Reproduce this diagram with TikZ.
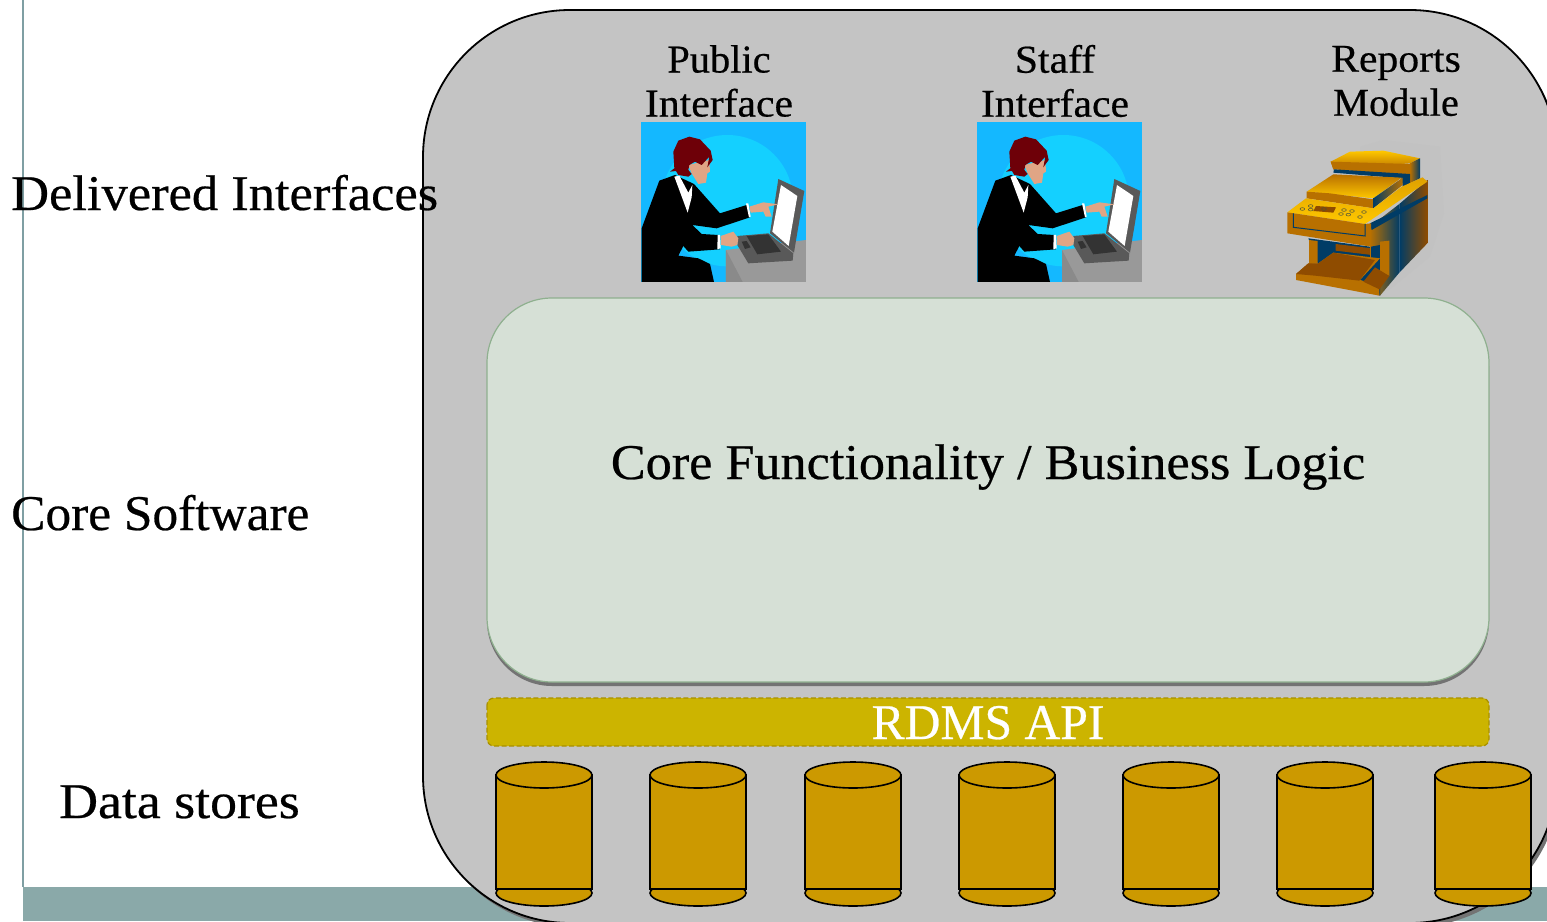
\documentclass[tikz,border=0pt]{standalone}
\usepackage{fontspec}
\setmainfont[FakeStretch=1.055,FakeBold=0.5]{Liberation Serif}
\usetikzlibrary{shadings}
\definecolor{band}{HTML}{8AA9A9}
\definecolor{rail}{HTML}{7F9FA3}
\definecolor{panel}{HTML}{C4C4C4}
\definecolor{core}{HTML}{D6E0D6}
\definecolor{coreedge}{HTML}{8FB08F}
\definecolor{api}{HTML}{CCB400}
\definecolor{apiedge}{HTML}{A89000}
\definecolor{drum}{HTML}{CC9900}
\definecolor{skyA}{HTML}{14B8FF}
\definecolor{skyB}{HTML}{14D0FF}
\definecolor{skin}{HTML}{E0A585}
\definecolor{hair}{HTML}{6E0008}
\definecolor{pblue}{HTML}{003C66}
\definecolor{porange}{HTML}{B87000}
\definecolor{pgold}{HTML}{FFC800}
\definecolor{pbrown}{HTML}{8F4C00}
\tikzset{
 biglabel/.style={font=\fontsize{50}{50}\selectfont,inner sep=0pt,anchor=base west},
 smalllabel/.style={font=\fontsize{39.5}{44}\selectfont,inner sep=0pt,align=center},
 drumshape/.style={fill=drum,draw=black,line width=1.6pt},
 goldtop/.style={top color=pgold,bottom color=porange,draw=none},
 golddeck/.style={top color=porange,bottom color=pgold,draw=none},
 person/.pic={
  \begin{scope}[scale=0.3333]
   \fill[skyA] (63,36) rectangle (558,516);
   \begin{scope}
    \clip (63,36) rectangle (558,516);
    \fill[skyB] (322,272) circle (197);
   \end{scope}
   \fill[black!40] (318,420) -- (558,390) -- (558,516) -- (318,516) -- cycle;
   \fill[black!46] (318,420) -- (368,516) -- (318,516) -- cycle;
   \fill[black!65] (352,378) -- (445,370) -- (520,430) -- (518,452) -- (385,460) -- (352,405) -- cycle;
   \fill[black!80] (380,378) -- (445,373) -- (483,425) -- (412,433) -- cycle;
   \fill[black!80] (365,395) -- (380,393) -- (392,412) -- (375,417) -- cycle;
   \fill[black!65] (475,207) -- (553,243) -- (522,428) -- (450,370) -- cycle;
   \fill[white] (483,225) -- (532,258) -- (506,408) -- (457,365) -- cycle;
   \fill[black] (65,516) -- (65,355) -- (118,212) -- (165,195) -- (222,222) -- (300,310) -- (380,285) -- (390,322) -- (290,355) -- (217,345) -- (245,372) -- (295,375) -- (300,418) -- (205,425) -- (190,408) -- (175,437) -- (235,445) -- (270,462) -- (282,516) -- cycle;
   \fill[white] (378,280) -- (385,280) -- (392,320) -- (387,322) -- cycle;
   \fill[white] (293,375) -- (300,375) -- (302,415) -- (292,418) -- cycle;
   \fill[skin] (388,290) -- (430,277) -- (475,283) -- (445,290) -- (455,320) -- (437,320) -- (430,305) -- (392,308) -- cycle;
   \fill[skin] (302,378) -- (340,365) -- (355,385) -- (352,405) -- (335,410) -- (303,405) -- cycle;
   \fill[skin] (205,165) -- (268,150) -- (270,185) -- (262,190) -- (258,218) -- (235,222) -- (215,190) -- cycle;
   \fill[white] (163,200) -- (178,197) -- (205,248) -- (217,225) -- (215,262) -- (203,308) -- cycle;
   \fill[hair] (150,185) -- (163,175) -- (160,125) -- (175,92) -- (208,80) -- (240,88) -- (272,122) -- (278,150) -- (262,172) -- (268,140) -- (245,165) -- (225,155) -- (208,165) -- (205,180) -- (215,192) -- (205,200) -- (175,195) -- (168,183) -- cycle;
  \end{scope}
 },
 datadrum/.pic={
  \path[drumshape] (0,4) ellipse (48 and 13);
  \path[drumshape] (-48,-114) rectangle (48,0);
  \path[drumshape] (0,-114) ellipse (48 and 13);
 }
}
\begin{document}
\begin{tikzpicture}[x=1pt,y=-1pt]
\useasboundingbox (0,0) rectangle (1547,921);
\clip (0,0) rectangle (1547,921);
\fill[white] (0,0) rectangle (1547,921);
\fill[band] (23,887) rectangle (1547,921);
\draw[rail,line width=1.2pt] (23,0) -- (23,887);
% outer panel
\fill[black!55,rounded corners=147pt] (426,14) rectangle (1560,927);
\path[fill=panel,draw=black,line width=1.8pt,rounded corners=147pt] (423,10) rectangle (1557,923);
% clip art
\pic at (620,110) {person};
\pic at (956,110) {person};
\begin{scope}[shift={(1270,130)},scale=0.3333]
 \fill[black!24] (270,50) -- (340,30) -- (510,50) -- (522,250) -- (480,380) -- (370,470) -- (330,497) -- (300,300) -- cycle;
 \fill[pblue] (115,325) -- (300,350) -- (330,497) -- (150,420) -- cycle;
 \fill[porange] (117,330) -- (143,333) -- (143,400) -- (117,402) -- cycle;
 \fill[pbrown] (197,342) -- (330,358) -- (330,378) -- (197,362) -- cycle;
 \path[left color=porange,right color=pblue,draw=none] (300,290) -- (388,222) -- (388,428) -- (330,497) -- (300,400) -- cycle;
 \path[left color=pblue,right color=pbrown,draw=none] (388,222) -- (472,150) -- (472,340) -- (388,428) -- cycle;
 \fill[pblue] (303,350) -- (330,345) -- (330,497) -- (303,420) -- cycle;
 \fill[pblue] (300,280) -- (472,195) -- (472,205) -- (305,300) -- cycle;
 \fill[porange] (330,335) -- (358,332) -- (358,438) -- (330,425) -- cycle;
 \path[goldtop] (182,95) -- (240,65) -- (340,62) -- (450,85) -- (420,100) -- (190,118) -- cycle;
 \fill[porange] (182,95) -- (420,102) -- (420,138) -- (400,135) -- (190,118) -- cycle;
 \path[left color=porange,right color=pblue,draw=none] (420,100) -- (450,85) -- (450,145) -- (420,160) -- cycle;
 \fill[pblue] (192,118) -- (420,132) -- (420,160) -- (398,170) -- (395,145) -- (190,128) -- cycle;
 \path[golddeck] (110,185) -- (190,133) -- (395,143) -- (310,205) -- cycle;
 \fill[porange] (110,185) -- (180,190) -- (310,208) -- (310,235) -- (110,205) -- cycle;
 \path[left color=pblue,right color=porange,draw=none] (310,205) -- (398,143) -- (398,165) -- (310,235) -- cycle;
 \path[top color=pgold!55!porange,bottom color=pgold,draw=none] (52,247) -- (108,205) -- (310,235) -- (395,170) -- (458,142) -- (472,155) -- (285,282) -- cycle;
 \fill[porange] (52,247) -- (285,282) -- (303,280) -- (303,350) -- (52,310) -- cycle;
 \draw[pblue,line width=1pt] (70,250) -- (70,292) -- (285,318) -- (285,282);
 \fill[pbrown] (138,228) -- (198,232) -- (190,248) -- (130,243) -- cycle;
 \foreach \a/\b in {97/237,122/228,122/239,162/237,222/240,246/243,282/246,213/252,235/254,270/261}
   \draw[pblue!60!porange,line width=.5pt] (\a,\b) circle (7 and 4);
 \fill[porange] (78,432) -- (115,400) -- (145,400) -- (190,368) -- (330,385) -- (270,450) -- (328,465) -- (328,497) -- (78,450) -- cycle;
 \fill[pbrown] (78,432) -- (115,400) -- (145,400) -- (190,368) -- (315,390) -- (268,452) -- (135,437) -- cycle;
 \fill[pbrown] (280,455) -- (315,412) -- (358,438) -- (328,478) -- cycle;
\end{scope}
% core
\fill[black!55,rounded corners=65pt] (487,302) rectangle (1489,686);
\path[fill=core,draw=coreedge,line width=1.2pt,rounded corners=65pt] (487,298) rectangle (1489,682);
\path[fill=api,draw=apiedge,line width=1.2pt,dash pattern=on 5pt off 2.5pt,rounded corners=7pt] (487,698) rectangle (1489,746);
% drums
\foreach \c in {544,698,853,1007,1171,1325,1483}
  \pic at (\c,889) {datadrum};
% text
\node[biglabel] (delivered) at (11,210) {\scalebox{0.995}[1]{Delivered Interfaces}};
\node[biglabel] (coresw) at (11,530) {\scalebox{0.974}[1]{Core Software}};
\node[biglabel] (stores) at (59,818) {\scalebox{1.02}[1]{Data stores}};
\node[biglabel,anchor=base] (logic) at (988,479) {\scalebox{0.99}[1]{Core Functionality / Business Logic}};
\node[biglabel,anchor=base,text=white] (rdms) at (988,739) {\scalebox{0.94}[1]{RDMS API}};
\node[smalllabel] (public) at (719,81) {\scalebox{0.97}[1]{Public}\\Interface};
\node[smalllabel] (staff) at (1055,81) {Staff\\Interface};
\node[smalllabel] (reports) at (1396,81) {Reports\\\scalebox{0.97}[1]{Module}};
\end{tikzpicture}
\end{document}
